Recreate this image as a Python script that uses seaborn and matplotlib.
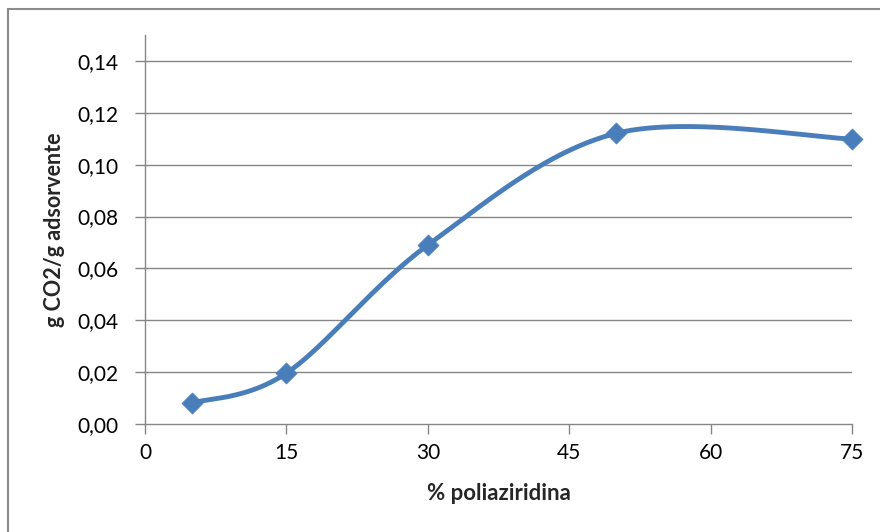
import numpy as np
import pandas as pd
import matplotlib
matplotlib.use("Agg")
import matplotlib.pyplot as plt
import seaborn as sns
from matplotlib.patches import Rectangle

# Adsorption data
poliaziridina = [5, 15, 30, 50, 75]
adsorcao = [0.0081, 0.0196, 0.0690, 0.1121, 0.1099]
x_ticks = [0, 15, 30, 45, 60, 75]
y_ticks = [0.00, 0.02, 0.04, 0.06, 0.08, 0.10, 0.12, 0.14]

df = pd.DataFrame({"pct": poliaziridina, "g": adsorcao})

sns.set_theme(style="white")
plt.rcParams["font.family"] = ["Lato", "DejaVu Sans"]

fig = plt.figure(figsize=(8.8, 5.32), dpi=100)
ax = fig.add_axes([145 / 880, 1 - 424 / 532, (852 - 145) / 880, (424 - 35) / 532])

# Smoothed line (Catmull-Rom style, like a spreadsheet "smoothed line")
def smooth(xs, ys, n=60):
    p = np.column_stack([xs, ys]).astype(float)
    p_ext = np.vstack([p[0], p, p[-1]])
    out = []
    for i in range(1, len(p_ext) - 2):
        p0, p1, p2, p3 = p_ext[i - 1], p_ext[i], p_ext[i + 1], p_ext[i + 2]
        c1 = p1 + (p2 - p0) / 6
        c2 = p2 - (p3 - p1) / 6
        t = np.linspace(0, 1, n)[:, None]
        seg = ((1 - t) ** 3) * p1 + 3 * ((1 - t) ** 2) * t * c1 + 3 * (1 - t) * t ** 2 * c2 + t ** 3 * p2
        out.append(seg if i == 1 else seg[1:])
    c = np.vstack(out)
    return c[:, 0], c[:, 1]

sx, sy = smooth(df["pct"].values, df["g"].values)
blue = "#4A7EBB"
sns.lineplot(x=sx, y=sy, ax=ax, color=blue, linewidth=3.5, sort=False, zorder=3)
sns.scatterplot(data=df, x="pct", y="g", ax=ax, marker="D", s=115, color=blue,
                edgecolor=blue, linewidth=0.5, zorder=4, clip_on=False)

ax.set_xlim(0, 75)
ax.set_ylim(0, 0.15)
ax.set_xticks(x_ticks)
ax.set_yticks(y_ticks)
ax.set_xticklabels([str(v) for v in x_ticks])
ax.set_yticklabels([f"{v:.2f}".replace(".", ",") for v in y_ticks])

grid_c = "#868686"
for v in y_ticks[1:]:
    ax.axhline(v, color=grid_c, linewidth=1.0, zorder=1)
for side in ["top", "right"]:
    ax.spines[side].set_visible(False)
for side in ["left", "bottom"]:
    ax.spines[side].set_color(grid_c)
    ax.spines[side].set_linewidth(1.0)

ax.tick_params(axis="both", which="major", direction="out", length=7, width=1.0,
               color=grid_c, labelsize=15, labelcolor="black",
               left=True, bottom=True)
ax.tick_params(axis="y", pad=12)
ax.tick_params(axis="x", pad=7)

ax.set_xlabel("% poliaziridina", fontsize=16, fontweight="bold", labelpad=14)
ax.set_ylabel("g CO2/g adsorvente", fontsize=15.5, fontweight="bold", labelpad=9)

# Chart frame
fig.patches.append(Rectangle((8 / 880, -0.05), 1.2, 1 - 9 / 532 + 0.05,
                             transform=fig.transFigure, fill=False,
                             edgecolor="#8C8C8C", linewidth=1.5))

fig.savefig("out.png", dpi=100)
